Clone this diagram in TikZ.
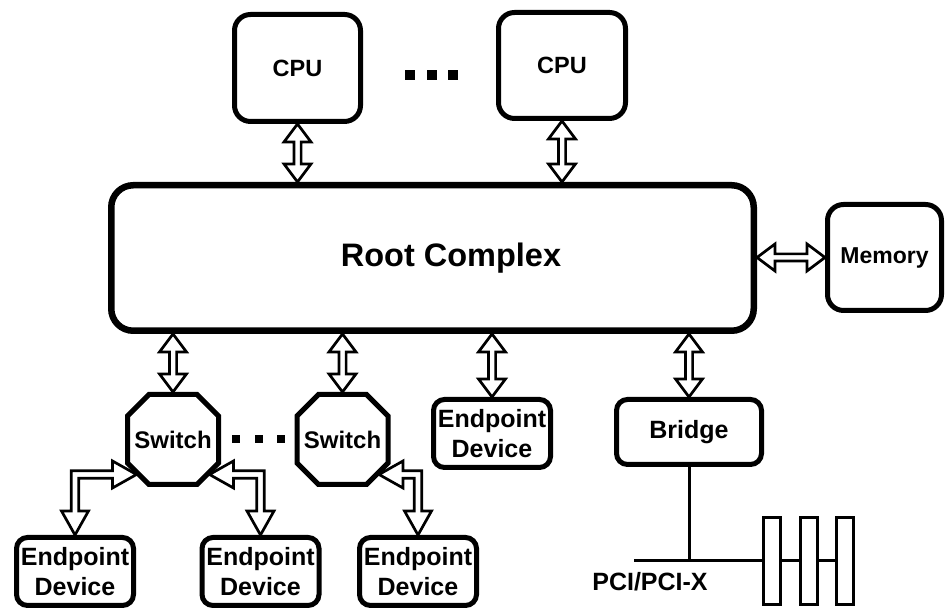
\documentclass[tikz,border=0pt]{standalone}
\usepackage{fontspec}
\setmainfont{Liberation Sans}
\usetikzlibrary{calc}
\def\dblH{18}\def\dblW{13.5}\def\dblS{3.6}
\def\elbH{24}\def\elbW{13.5}\def\elbS{3.8}
\newcommand\swoctagon[1]{%
  \draw[line width=5pt] ($(#1.center)+(-24,45)$) -- ($(#1.center)+(24,45)$)
    -- ($(#1.center)+(45.5,23.5)$) -- ($(#1.center)+(45.5,-23.5)$)
    -- ($(#1.center)+(24,-45)$) -- ($(#1.center)+(-24,-45)$)
    -- ($(#1.center)+(-45.5,-23.5)$) -- ($(#1.center)+(-45.5,23.5)$) -- cycle;}
\tikzset{
  box/.style={draw, line width=5pt, rounded corners=12pt, align=center, inner sep=0pt},
  swnode/.style={minimum width=96pt, minimum height=95pt, inner sep=0pt, outer sep=0pt,
    font=\bfseries\fontsize{24}{29}\selectfont},
  epbox/.style={box, minimum width=117pt, minimum height=68pt, rounded corners=11pt,
    font=\bfseries\fontsize{25}{29.5}\selectfont},
  slot/.style={draw, line width=3pt, minimum width=17pt, minimum height=87pt, inner sep=0pt},
  bus/.style={line width=3pt},
  dbl/.style={draw, line width=2.7pt, fill=white, to path={
    let \p1=(\tikztostart), \p2=(\tikztotarget),
        \n1={veclen(\x2-\x1,\y2-\y1)},
        \n2={(\x2-\x1)/\n1}, \n3={(\y2-\y1)/\n1} in
    (\p1)
    -- ({\x1+\dblH*\n2-\dblW*\n3},{\y1+\dblH*\n3+\dblW*\n2})
    -- ({\x1+\dblH*\n2-\dblS*\n3},{\y1+\dblH*\n3+\dblS*\n2})
    -- ({\x2-\dblH*\n2-\dblS*\n3},{\y2-\dblH*\n3+\dblS*\n2})
    -- ({\x2-\dblH*\n2-\dblW*\n3},{\y2-\dblH*\n3+\dblW*\n2})
    -- (\p2)
    -- ({\x2-\dblH*\n2+\dblW*\n3},{\y2-\dblH*\n3-\dblW*\n2})
    -- ({\x2-\dblH*\n2+\dblS*\n3},{\y2-\dblH*\n3-\dblS*\n2})
    -- ({\x1+\dblH*\n2+\dblS*\n3},{\y1+\dblH*\n3-\dblS*\n2})
    -- ({\x1+\dblH*\n2+\dblW*\n3},{\y1+\dblH*\n3-\dblW*\n2})
    -- cycle}},
  elbow/.style={draw, line width=2.7pt, fill=white, to path={
    let \p1=(\tikztostart), \p2=(\tikztotarget),
        \n1={sign(\x2-\x1)} in
    (\p1)
    -- ({\x1+\n1*\elbH},{\y1+\elbW})
    -- ({\x1+\n1*\elbH},{\y1+\elbS})
    -- ({\x2+\n1*\elbS},{\y1+\elbS})
    -- ({\x2+\n1*\elbS},{\y2+\elbH})
    -- ({\x2+\n1*\elbW},{\y2+\elbH})
    -- (\p2)
    -- ({\x2-\n1*\elbW},{\y2+\elbH})
    -- ({\x2-\n1*\elbS},{\y2+\elbH})
    -- ({\x2-\n1*\elbS},{\y1-\elbS})
    -- ({\x1+\n1*\elbH},{\y1-\elbS})
    -- ({\x1+\n1*\elbH},{\y1-\elbW})
    -- cycle}}
}
\begin{document}
\begin{tikzpicture}[x=1pt,y=1pt]
\useasboundingbox (0,0) rectangle (946,609);

% CPUs
\node[box, minimum width=126pt, minimum height=107pt, rounded corners=16pt,
  font=\bfseries\fontsize{23.5}{28}\selectfont] (cpu1) at (297.5,541) {CPU};
\node[box, minimum width=127pt, minimum height=106pt, rounded corners=16pt,
  font=\bfseries\fontsize{23.5}{28}\selectfont] (cpu2) at (562,543.5) {CPU};
\fill (405,529) rectangle (415,539);
\fill (427,529) rectangle (437,539);
\fill (448,529) rectangle (458,539);

% Root complex and memory
\node[box, line width=6.5pt, minimum width=642.5pt, minimum height=145.5pt, rounded corners=22pt,
  font=\bfseries\fontsize{32.5}{39}\selectfont] (root) at (432.5,351) {\hspace*{37pt}Root Complex};
\node[box, minimum width=114pt, minimum height=106pt, rounded corners=16pt,
  font=\bfseries\fontsize{23}{27}\selectfont] (mem) at (884.5,351.5) {Memory};

% Switches
\node[swnode] (sw1) at (173,169.5) {Switch};
\node[swnode] (sw2) at (342.5,169.5) {Switch};
\swoctagon{sw1}
\swoctagon{sw2}
\coordinate (sw1sw) at ($(sw1.center)+(-36.5,-35)$);
\coordinate (sw1se) at ($(sw1.center)+(36.5,-35)$);
\coordinate (sw2se) at ($(sw2.center)+(36.5,-35)$);
\fill (232,166) rectangle (240,174);
\fill (255,166) rectangle (263,174);
\fill (277,166) rectangle (285,174);

% Endpoints
\node[epbox] (ep4) at (492,175.5) {Endpoint\\Device};
\node[epbox] (ep1) at (75,37.5) {Endpoint\\Device};
\node[epbox] (ep2) at (260.5,37.5) {Endpoint\\Device};
\node[epbox] (ep3) at (418,37.5) {Endpoint\\Device};

% Bridge and PCI bus
\node[box, minimum width=145pt, minimum height=65pt, rounded corners=11pt,
  font=\bfseries\fontsize{25}{30}\selectfont] (bridge) at (689,177) {Bridge};
\node[slot] (slot1) at (772,48) {};
\node[slot] (slot2) at (809,48) {};
\node[slot] (slot3) at (845,48) {};
\coordinate (busL) at (634,48);
\draw[bus] (bridge.south) -- (bridge.south |- busL);
\draw[bus] (busL) -- (slot1.west);
\draw[bus] (slot1.east) -- (slot2.west);
\draw[bus] (slot2.east) -- (slot3.west);
\node[font=\bfseries\fontsize{25}{30}\selectfont] (pci) at (650,27) {PCI/PCI-X};

% Double arrows
\draw[dbl] (cpu1.south) to (root.north -| cpu1.south);
\draw[dbl] (cpu2.south) to (root.north -| cpu2.south);
\draw[dbl] (root.east |- mem.west) to (mem.west);
\draw[dbl] (root.south -| sw1.north) to (sw1.north);
\draw[dbl] (root.south -| sw2.north) to (sw2.north);
\draw[dbl] (root.south -| ep4.north) to (ep4.north);
\draw[dbl] (root.south -| bridge.north) to (bridge.north);

% Elbow arrows
\draw[elbow] (sw1sw) to (ep1.north);
\draw[elbow] (sw1se) to (ep2.north);
\draw[elbow] (sw2se) to (ep3.north);
\end{tikzpicture}
\end{document}
